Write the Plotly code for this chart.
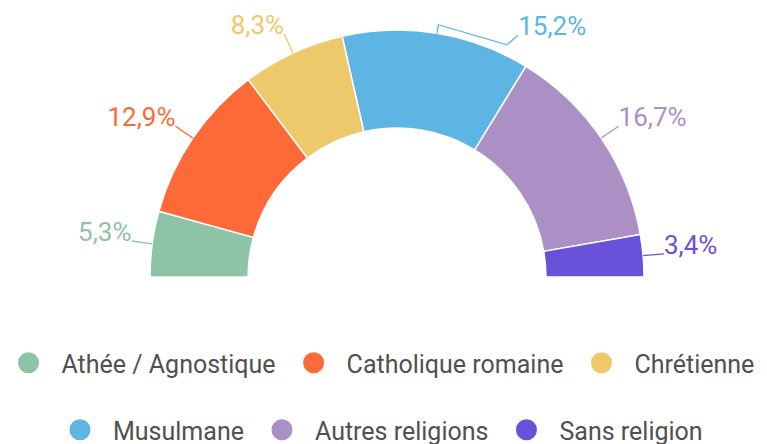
import math
import plotly.graph_objects as go

categories = ["Athée / Agnostique", "Catholique romaine", "Chrétienne",
              "Musulmane", "Autres religions", "Sans religion"]
values = [5.3, 12.9, 8.3, 15.2, 16.7, 3.4]
labels = ["5,3%", "12,9%", "8,3%", "15,2%", "16,7%", "3,4%"]
colors = ["#8DC3A7", "#FE6A37", "#EDC96B", "#5DB5E3", "#AB90C6", "#6A51D9"]
legend_rows = ["legend", "legend", "legend", "legend2", "legend2", "legend2"]

INNER = 0.603   # inner radius (fraction of outer)
LEAD = 1.085    # leader line end radius
RMAX = 1.12     # radial range max

H, W = 444, 767
cx, cy, R = 397, 277, 247
LABEL_DROP_PX = 6.5   # lower labels so their baseline sits at the leader end

total = sum(values)
spans = [v / total * 180 for v in values]
mids = []
acc = 0
for s in spans:
    mids.append(180 - (acc + s / 2))
    acc += s

fig = go.Figure()

# slices
fig.add_trace(go.Barpolar(
    theta=mids, width=spans, r=[1 - INNER] * len(values), base=INNER,
    marker=dict(color=colors, line=dict(color="white", width=1.5)),
    showlegend=False, hoverinfo="skip"))

# leaders + labels
for i, (m, lab, c) in enumerate(zip(mids, labels, colors)):
    if categories[i] == "Musulmane":
        rr = [1.0, 1.035, 1.04, 1.095]
        tt = [m, m, m - 16, m - 17.3]
    else:
        rr = [1.0, LEAD]
        tt = [m, m]
    fig.add_trace(go.Scatterpolar(
        r=rr, theta=tt, mode="lines", line=dict(color=c, width=1.3),
        showlegend=False, hoverinfo="skip", cliponaxis=False))
    # label anchor: leader end moved down by LABEL_DROP_PX
    ex = rr[-1] * math.cos(math.radians(tt[-1]))
    ey = rr[-1] * math.sin(math.radians(tt[-1])) - LABEL_DROP_PX / R
    lr = math.hypot(ex, ey)
    lt = math.degrees(math.atan2(ey, ex))
    fig.add_trace(go.Scatterpolar(
        r=[lr], theta=[lt], mode="text", text=[lab],
        textposition="top left" if tt[-1] > 90 else "top right",
        textfont=dict(family="Roboto", size=26, color=c),
        showlegend=False, hoverinfo="skip", cliponaxis=False))

# legend entries
for cat, c, lg in zip(categories, colors, legend_rows):
    fig.add_trace(go.Scatterpolar(
        r=[None], theta=[None], mode="markers", name=cat,
        marker=dict(color=c, size=16, symbol="circle", line=dict(color=c, width=5)),
        legend=lg))

Rp = R * RMAX
legend_style = dict(orientation="h", x=0.5 - 6 / W, xanchor="center", yanchor="middle",
                    font=dict(family="Roboto", size=25, color="#505050"),
                    itemclick=False, itemwidth=56)
fig.update_layout(
    width=W, height=H,
    margin=dict(l=0, r=0, t=0, b=0, autoexpand=False),
    paper_bgcolor="white", plot_bgcolor="white",
    font=dict(family="Roboto", color="#505050"),
    polar=dict(
        sector=[0, 180], hole=0, bgcolor="rgba(0,0,0,0)",
        domain=dict(x=[(cx - Rp) / W, (cx + Rp) / W],
                    y=[1 - cy / H, min(1.0, 1 - (cy - Rp) / H)]),
        radialaxis=dict(range=[0, RMAX], visible=False, showgrid=False, showline=False,
                        showticklabels=False, ticks=""),
        angularaxis=dict(visible=False, showgrid=False, showline=False,
                         showticklabels=False, ticks=""),
    ),
    legend=dict(legend_style, y=1 - 363 / H),
    legend2=dict(legend_style, y=1 - 430 / H),
)

fig.write_html("out.html", config={"displayModeBar": False},
               post_script="document.body.style.margin='0';document.body.style.overflow='hidden';")
